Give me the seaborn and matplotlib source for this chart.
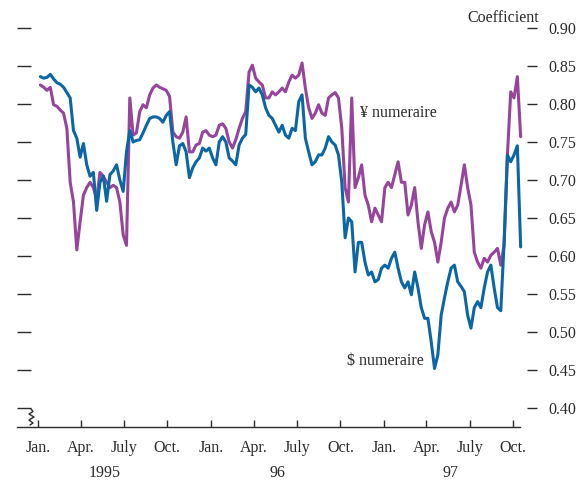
import numpy as np
import pandas as pd
import matplotlib
matplotlib.use("Agg")
import matplotlib.pyplot as plt
import matplotlib.dates as mdates
from matplotlib.lines import Line2D
import seaborn as sns

# ---------------- data (weekly readings) ----------------
dollar = [0.836, 0.834, 0.835, 0.839, 0.833, 0.828, 0.826, 0.822, 0.815, 0.808,
          0.765, 0.755, 0.730, 0.748, 0.720, 0.705, 0.710, 0.660, 0.697, 0.705,
          0.672, 0.707, 0.712, 0.720, 0.700, 0.685, 0.737, 0.765, 0.750, 0.752,
          0.753, 0.762, 0.772, 0.781, 0.783, 0.783, 0.781, 0.776, 0.785, 0.790,
          0.750, 0.720, 0.745, 0.748, 0.737, 0.703, 0.716, 0.724, 0.729, 0.742,
          0.738, 0.742, 0.729, 0.720, 0.750, 0.757, 0.750, 0.729, 0.725, 0.720,
          0.746, 0.755, 0.760, 0.825, 0.822, 0.816, 0.821, 0.812, 0.795, 0.785,
          0.781, 0.772, 0.763, 0.772, 0.759, 0.755, 0.768, 0.765, 0.803, 0.812,
          0.755, 0.737, 0.720, 0.724, 0.733, 0.733, 0.742, 0.757, 0.750, 0.746,
          0.733, 0.697, 0.624, 0.650, 0.645, 0.579, 0.618, 0.618, 0.592, 0.575,
          0.579, 0.566, 0.569, 0.584, 0.588, 0.584, 0.597, 0.605, 0.584, 0.566,
          0.558, 0.566, 0.549, 0.579, 0.558, 0.532, 0.518, 0.518, 0.487, 0.452,
          0.470, 0.522, 0.545, 0.566, 0.584, 0.588, 0.566, 0.560, 0.553, 0.522,
          0.505, 0.532, 0.540, 0.532, 0.558, 0.579, 0.588, 0.558, 0.532, 0.528,
          0.618, 0.733, 0.724, 0.733, 0.745, 0.612]

yen = [0.825, 0.822, 0.818, 0.822, 0.799, 0.797, 0.792, 0.788, 0.768, 0.697,
       0.671, 0.608, 0.645, 0.680, 0.690, 0.697, 0.690, 0.675, 0.710, 0.705,
       0.697, 0.690, 0.693, 0.690, 0.671, 0.628, 0.614, 0.808, 0.759, 0.762,
       0.790, 0.799, 0.795, 0.812, 0.821, 0.825, 0.822, 0.820, 0.818, 0.810,
       0.763, 0.757, 0.755, 0.763, 0.783, 0.737, 0.737, 0.746, 0.748, 0.763,
       0.765, 0.759, 0.757, 0.759, 0.772, 0.774, 0.768, 0.750, 0.742, 0.753,
       0.768, 0.781, 0.790, 0.842, 0.851, 0.834, 0.829, 0.825, 0.808, 0.808,
       0.816, 0.812, 0.816, 0.821, 0.816, 0.829, 0.838, 0.834, 0.838, 0.854,
       0.821, 0.795, 0.781, 0.788, 0.799, 0.788, 0.785, 0.808, 0.812, 0.815,
       0.808, 0.768, 0.690, 0.671, 0.808, 0.690, 0.703, 0.720, 0.680, 0.667,
       0.645, 0.663, 0.654, 0.645, 0.690, 0.697, 0.690, 0.707, 0.724, 0.697,
       0.697, 0.654, 0.667, 0.690, 0.645, 0.610, 0.641, 0.658, 0.632, 0.618,
       0.592, 0.618, 0.650, 0.663, 0.671, 0.658, 0.667, 0.693, 0.720, 0.690,
       0.667, 0.605, 0.592, 0.584, 0.597, 0.592, 0.601, 0.605, 0.610, 0.588,
       0.614, 0.733, 0.816, 0.808, 0.836, 0.757]

dates = pd.date_range("1995-01-06", periods=len(dollar), freq="7D")

month_labels = ["Jan.", "Apr.", "July", "Oct."]
year_labels = ["1995", "96", "97"]
years = [1995, 1996, 1997]
ytick_values = [0.40, 0.45, 0.50, 0.55, 0.60, 0.65, 0.70, 0.75, 0.80, 0.85, 0.90]

df = pd.DataFrame({"date": dates, "dollar": dollar, "yen": yen})

# ---------------- style ----------------
sns.set_style("white")
plt.rcParams["font.family"] = ["Liberation Serif", "DejaVu Serif"]
FS = 11.5
INK = "#2a2a2a"
BLUE = "#0a67a3"
PURPLE = "#96449c"

W, H = 578, 483
fig = plt.figure(figsize=(W / 100, H / 100), dpi=100)
# axes: left 17px, right 527px, bottom line at y=427px, top at y=5px
ax = fig.add_axes([17 / W, (H - 427) / H, 510 / W, 422 / H])

sns.lineplot(data=df, x="date", y="yen", color=PURPLE, lw=2.2, ax=ax)
sns.lineplot(data=df, x="date", y="dollar", color=BLUE, lw=2.2, ax=ax)

jan95 = pd.Timestamp("1995-01-01")
px_per_day = 0.4732
xl = jan95 - pd.Timedelta(days=21 / px_per_day)
xr = jan95 + pd.Timedelta(days=(527 - 38) / px_per_day)
ax.set_xlim(xl, xr)
ylo = 0.40 - 19 / 760
yhi = 0.90 + 23 / 760
ax.set_ylim(ylo, yhi)
ax.set_xlabel("")
ax.set_ylabel("")

for s in ["top", "right", "left"]:
    ax.spines[s].set_visible(False)
ax.spines["bottom"].set_color(INK)
ax.spines["bottom"].set_linewidth(1.0)
xend = jan95 + pd.Timedelta(days=(520 - 38) / px_per_day)
ax.spines["bottom"].set_bounds(mdates.date2num(xl), mdates.date2num(xend))

# x ticks
quarters = pd.date_range("1995-01-01", "1997-10-01", freq="QS")
ax.set_xticks(quarters)
ax.set_xticklabels(month_labels * 3)
ax.set_xticks(pd.to_datetime([f"{y}-01-01" for y in years]), minor=True)
ax.tick_params(axis="x", which="major", direction="in", length=5, width=1.0,
               color=INK, labelsize=FS, labelcolor=INK, pad=9.5, bottom=True)
ax.tick_params(axis="x", which="minor", direction="in", length=10.8, width=1.0,
               color=INK, bottom=True, labelbottom=False)

# left ticks (no labels)
ax.set_yticks(ytick_values)
ax.tick_params(axis="y", which="major", direction="in", left=True, length=10,
               width=1.0, color=INK, labelleft=False)
ax.tick_params(axis="y", which="minor", left=False)

# right labelled ticks
ax2 = ax.twinx()
ax2.set_ylim(ylo, yhi)
ax2.set_yticks(ytick_values)
ax2.set_yticklabels([f"{v:.2f}" for v in ytick_values])
for s in ax2.spines.values():
    s.set_visible(False)
ax2.tick_params(axis="y", direction="out", right=True, length=7.2, width=1.0,
                color=INK, labelsize=FS, labelcolor=INK, pad=8.2)
ax2.grid(False)
ax.grid(False)

# year labels
tr = matplotlib.transforms.blended_transform_factory(ax.transData, fig.transFigure)
for y, lab in zip(years, year_labels):
    xpos = pd.Timestamp(f"{y}-01-01") + pd.Timedelta(days=140)
    ax.text(xpos, (H - 473) / H, lab, transform=tr, ha="center", va="center",
            fontsize=FS, color=INK)

# series labels
ax.text(pd.Timestamp("1996-11-11"), 0.788, "¥ numeraire", ha="left", va="center",
        fontsize=FS, color=INK)
ax.text(pd.Timestamp("1996-10-15"), 0.462, "$ numeraire", ha="left", va="center",
        fontsize=FS, color=INK)

fig.text(539 / W, 1 - 18 / H, "Coefficient", ha="right", va="center",
         fontsize=FS, color=INK)

# axis break zig-zag
zx = [31, 33, 29, 34, 29, 33, 30]
zy = [409, 411.5, 414, 417, 420, 423, 425]
fig.add_artist(Line2D([v / W for v in zx], [1 - v / H for v in zy],
                      transform=fig.transFigure, color=INK, lw=1.0))

fig.savefig("out.png", dpi=100)
